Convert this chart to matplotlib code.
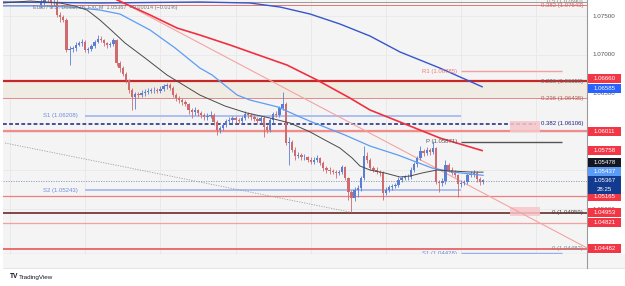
import numpy as np
import matplotlib
matplotlib.use("Agg")
import matplotlib.pyplot as plt
from matplotlib.patches import Rectangle
from matplotlib.transforms import blended_transform_factory

plt.rcParams['font.family'] = ['Liberation Sans', 'DejaVu Sans']

# Bougies EUR/USD 1h (index 0 = début du jour 8, 24 bougies par jour)
first_bar = 10
first_open = 1.0765
closes = [1.0768, 1.0774, 1.0771, 1.0767, 1.0768, 1.0752, 1.0749, 1.0745, 1.0706, 1.0707,
          1.0709, 1.0713, 1.0715, 1.0717, 1.0706, 1.0707, 1.0711, 1.0717, 1.0721, 1.0719,
          1.0715, 1.0713, 1.0714, 1.0719, 1.0689, 1.0683, 1.0675, 1.0667, 1.0654, 1.0645,
          1.0649, 1.0648, 1.0650, 1.0652, 1.0653, 1.0654, 1.0654, 1.0653, 1.0656, 1.0659,
          1.0661, 1.0657, 1.0648, 1.0644, 1.0641, 1.0639, 1.0636, 1.0628, 1.0626, 1.0628,
          1.0624, 1.0622, 1.0619, 1.0621, 1.0622, 1.0613, 1.0602, 1.0605, 1.0609, 1.0614,
          1.0615, 1.0618, 1.0615, 1.0614, 1.0618, 1.0623, 1.0622, 1.0619, 1.0617, 1.0614,
          1.0618, 1.0606, 1.0602, 1.0615, 1.0623, 1.0622, 1.0631, 1.0636, 1.0586, 1.0587,
          1.0577, 1.0569, 1.0570, 1.0567, 1.0567, 1.0564, 1.0561, 1.0564, 1.0566, 1.0560,
          1.0553, 1.0551, 1.0549, 1.0548, 1.0547, 1.0548, 1.0554, 1.0540, 1.0522, 1.0514,
          1.0525, 1.0527, 1.0540, 1.0569, 1.0564, 1.0553, 1.0551, 1.0548, 1.0547, 1.0521,
          1.0525, 1.0528, 1.0530, 1.0531, 1.0538, 1.0540, 1.0541, 1.0541, 1.0551, 1.0558,
          1.0566, 1.0575, 1.0573, 1.0577, 1.0574, 1.0579, 1.0535, 1.0534, 1.0536, 1.0557,
          1.0551, 1.0547, 1.0544, 1.0532, 1.0534, 1.0535, 1.0544, 1.0545, 1.0547, 1.0539,
          1.0535, 1.0537]
highs = [1.0778, 1.0780, 1.0778, 1.0775, 1.0773, 1.0772, 1.0755, 1.0751, 1.0748, 1.0712,
         1.0712, 1.0716, 1.0718, 1.0720, 1.0719, 1.0710, 1.0714, 1.0719, 1.0726, 1.0724,
         1.0721, 1.0717, 1.0717, 1.0722, 1.0721, 1.0692, 1.0686, 1.0678, 1.0669, 1.0657,
         1.0652, 1.0652, 1.0654, 1.0655, 1.0657, 1.0657, 1.0658, 1.0657, 1.0659, 1.0662,
         1.0664, 1.0663, 1.0659, 1.0651, 1.0647, 1.0644, 1.0642, 1.0638, 1.0631, 1.0632,
         1.0630, 1.0627, 1.0625, 1.0625, 1.0627, 1.0624, 1.0615, 1.0608, 1.0612, 1.0617,
         1.0619, 1.0621, 1.0620, 1.0618, 1.0621, 1.0627, 1.0626, 1.0624, 1.0622, 1.0619,
         1.0621, 1.0620, 1.0609, 1.0618, 1.0626, 1.0627, 1.0634, 1.0652, 1.0639, 1.0593,
         1.0590, 1.0580, 1.0574, 1.0573, 1.0571, 1.0569, 1.0567, 1.0567, 1.0570, 1.0568,
         1.0562, 1.0556, 1.0554, 1.0552, 1.0551, 1.0551, 1.0557, 1.0556, 1.0542, 1.0525,
         1.0528, 1.0531, 1.0543, 1.0582, 1.0574, 1.0566, 1.0556, 1.0554, 1.0551, 1.0549,
         1.0528, 1.0531, 1.0533, 1.0534, 1.0541, 1.0543, 1.0544, 1.0545, 1.0554, 1.0561,
         1.0569, 1.0582, 1.0578, 1.0580, 1.0579, 1.0588, 1.0581, 1.0538, 1.0540, 1.0564,
         1.0560, 1.0554, 1.0550, 1.0546, 1.0537, 1.0538, 1.0547, 1.0549, 1.0551, 1.0549,
         1.0541, 1.0539]
lows = [1.0761, 1.0765, 1.0768, 1.0761, 1.0764, 1.0749, 1.0743, 1.0743, 1.0703, 1.0687,
        1.0703, 1.0705, 1.0711, 1.0712, 1.0703, 1.0702, 1.0705, 1.0709, 1.0715, 1.0716,
        1.0712, 1.0709, 1.0710, 1.0712, 1.0686, 1.0678, 1.0672, 1.0664, 1.0650, 1.0628,
        1.0630, 1.0644, 1.0645, 1.0647, 1.0649, 1.0650, 1.0651, 1.0650, 1.0650, 1.0653,
        1.0656, 1.0654, 1.0645, 1.0640, 1.0638, 1.0635, 1.0633, 1.0623, 1.0618, 1.0622,
        1.0620, 1.0618, 1.0616, 1.0616, 1.0618, 1.0609, 1.0596, 1.0599, 1.0602, 1.0606,
        1.0611, 1.0612, 1.0612, 1.0611, 1.0611, 1.0615, 1.0618, 1.0616, 1.0614, 1.0611,
        1.0611, 1.0593, 1.0598, 1.0600, 1.0612, 1.0619, 1.0619, 1.0628, 1.0583, 1.0557,
        1.0574, 1.0564, 1.0566, 1.0564, 1.0563, 1.0561, 1.0558, 1.0558, 1.0561, 1.0557,
        1.0549, 1.0547, 1.0546, 1.0545, 1.0540, 1.0544, 1.0545, 1.0537, 1.0512, 1.0496,
        1.0510, 1.0515, 1.0524, 1.0537, 1.0560, 1.0550, 1.0548, 1.0545, 1.0543, 1.0512,
        1.0518, 1.0522, 1.0525, 1.0527, 1.0528, 1.0535, 1.0537, 1.0538, 1.0539, 1.0548,
        1.0555, 1.0563, 1.0569, 1.0570, 1.0570, 1.0571, 1.0532, 1.0522, 1.0530, 1.0533,
        1.0548, 1.0544, 1.0541, 1.0515, 1.0529, 1.0531, 1.0532, 1.0541, 1.0542, 1.0535,
        1.0531, 1.0533]

day_starts = [0, 24, 48, 72, 96, 120, 144, 168]
day_labels = ["8", "11", "12", "13", "14", "15", "18", "19"]
price_ticks = [1.045, 1.050, 1.055, 1.060, 1.065, 1.070, 1.075]

# Moyennes mobiles (index de bougie, prix)
ma_black_x = [-2.2, 6.4, 16.0, 20.7, 24.6, 28.7, 32.6, 36.7, 43.1, 50.1, 60.6, 68.6, 75.6, 83.0,
              89.4, 95.8, 100.5, 105.3, 109.2, 111.7, 114.9, 119.7, 124.5, 127.7, 131.5, 136.3,
              141.1, 146.8, 151.0]
ma_black_y = [1.07671, 1.07697, 1.07671, 1.07632, 1.07580, 1.07451, 1.07308, 1.07153, 1.06958,
              1.06738, 1.06478, 1.06336, 1.06245, 1.06180, 1.06115, 1.05999, 1.05895, 1.05791,
              1.05662, 1.05558, 1.05506, 1.05467, 1.05415, 1.05428, 1.05467, 1.05506, 1.05493,
              1.05480, 1.05478]
ma_blue_x = [-2.2, 9.6, 19.2, 28.7, 35.1, 44.7, 52.7, 60.6, 64.5, 72.5, 76.6, 85.5, 92.6, 96.4,
             106.9, 114.9, 123.8, 134.7, 141.1, 151.0]
ma_blue_y = [1.07632, 1.07632, 1.07619, 1.07580, 1.07528, 1.07321, 1.07088, 1.06828, 1.06738,
             1.06478, 1.06413, 1.06323, 1.06193, 1.06128, 1.05960, 1.05817, 1.05700, 1.05532,
             1.05480, 1.05437]
ma_red_x = [28.7, 34.2, 44.7, 53.3, 60.6, 70.2, 82.0, 88.4, 98.0, 108.5, 114.9, 124.5, 137.2, 150.7]
ma_red_y = [1.07840, 1.07710, 1.07516, 1.07347, 1.07256, 1.07127, 1.06958, 1.06867, 1.06673,
            1.06439, 1.06284, 1.06128, 1.05921, 1.05758]
ma_navy_x = [-2.2, 28.7, 60.6, 76.6, 86.2, 95.8, 105.3, 114.9, 124.5, 137.2, 150.7]
ma_navy_y = [1.07684, 1.07671, 1.07684, 1.07671, 1.07619, 1.07528, 1.07399, 1.07243, 1.07036,
             1.06828, 1.06585]

# Lignes de tendance (deux points d'ancrage)
trend_red_x = [34.5, 184.2]
trend_red_y = [1.07710, 1.04495]
trend_gray_x = [-1.6, 108.5]
trend_gray_y = [1.05856, 1.04961]

# Niveaux horizontaux
h_levels = [1.06660, 1.06011, 1.05165, 1.04953, 1.04821, 1.04482]
fib_levels = [1.07690, 1.07643, 1.06658, 1.06435, 1.06106, 1.04959, 1.04482]
fib_labels = ["0.5 (1.07690)", "0.382 (1.07643)", "0.236 (1.06658)", "0.236 (1.06435)",
              "0.382 (1.06106)", "0 (1.04959)", "0 (1.04482)"]
pivot_prev = [1.06208, 1.05243]
pivot_prev_labels = ["S1 (1.06208)", "S2 (1.05243)"]
pivot_cur = [1.06785, 1.05871, 1.04428]
pivot_cur_labels = ["R1 (1.06785)", "P (1.05871)", "S1 (1.04428)"]
last_price = 1.05367
countdown = "28:25"
tag_prices = [1.06660, 1.06585, 1.06011, 1.05758, 1.05478, 1.05437, 1.05165, 1.04953, 1.04821, 1.04482]

W, H = 625, 286
fig = plt.figure(figsize=(W / 100, H / 100), dpi=100)
fig.patch.set_facecolor('white')

def fx(px):
    return px / W

def fy(py):
    return 1 - py / H

ax = fig.add_axes([fx(3), fy(254), fx(587) - fx(3), fy(0) - fy(254)])
ylo, yhi = 1.04417, 1.07710
ax.set_xlim(-2.23, 184.17)
ax.set_ylim(ylo, yhi)
pxp = (yhi - ylo) / 254.0  # prix par pixel
ax.set_facecolor('#f4f4f4')
ax.set_xticks([])
ax.set_yticks([])
for s in ['top', 'left']:
    ax.spines[s].set_visible(False)
for s in ['right', 'bottom']:
    ax.spines[s].set_color('#9a9a9a')
    ax.spines[s].set_linewidth(0.8)

# grille
for d in day_starts:
    ax.axvline(d, color='#e7e7e7', lw=0.6, zorder=0.2)
for p in price_ticks:
    ax.axhline(p, color='#e9e9e9', lw=0.6, zorder=0.2)

# bande fib beige
ax.axhspan(fib_levels[3], fib_levels[2], color='#f1ece3', zorder=0.5, lw=0)

# lignes horizontales pleine largeur
h_colors = ['#c62828', '#f28b8b', '#ef7f7f', '#5d1a1a', '#f4a0a0', '#e84b4b']
h_widths = [1.6, 1.6, 0.9, 1.1, 0.9, 1.1]
for p, c, w in zip(h_levels, h_colors, h_widths):
    ax.axhline(p, color=c, lw=w, zorder=1.5)

# lignes fib propres
ax.axhline(fib_levels[0], color='#9a9a9a', lw=0.7, zorder=1.4)
ax.axhline(fib_levels[1], color='#e57373', lw=0.7, zorder=1.4)
ax.axhline(fib_levels[3], color='#e08a8a', lw=0.7, zorder=1.4)
ax.hlines(fib_levels[4], -2.23, 168.0, color='#1a237e', lw=1.1, linestyles=(0, (2.5, 1.5)), zorder=1.6)
fib_colors = ['#888888', '#e06060', '#666666', '#b55a5a', '#1a237e', '#444444', '#888888']
for p, lbl, c in zip(fib_levels, fib_labels, fib_colors):
    ax.text(182.9, p, lbl, ha='right', va='center', fontsize=4.3, color=c, zorder=6)

# rectangles roses
for y0, y1 in [(1.05999, 1.06141), (1.04910, 1.05026)]:
    ax.add_patch(Rectangle((159.6, y0), 9.6, y1 - y0, facecolor='#f7c6ca', edgecolor='none',
                           alpha=0.85, zorder=1.7))

# pivots semaine précédente
for p, lbl in zip(pivot_prev, pivot_prev_labels):
    ax.hlines(p, day_starts[1], day_starts[6], color='#a7baf0', lw=1.3, zorder=1.6)
    ax.text(21.7, p, lbl, ha='right', va='center', fontsize=4.3, color='#6f8ce0', zorder=6)
# pivots semaine en cours
piv_colors = ['#f4a0a0', '#555555', '#9bb0ee']
piv_text = ['#ee7b7b', '#555555', '#6f8ce0']
for p, lbl, c, tc in zip(pivot_cur, pivot_cur_labels, piv_colors, piv_text):
    ax.hlines(p, day_starts[6], 176.2, color=c, lw=1.0, zorder=1.6)
    ax.text(142.7, p, lbl, ha='right', va='center', fontsize=4.3, color=tc, zorder=6)

# prix courant (pointillé)
ax.axhline(last_price, color='#8797bb', lw=0.6, ls=(0, (1.5, 1.5)), zorder=1.5)

# lignes de tendance
ax.plot(trend_red_x, trend_red_y, color='#f4a3a3', lw=0.8, zorder=2)
ax.plot(trend_gray_x, trend_gray_y, color='#a0a0a0', lw=0.6, ls=(0, (1.5, 1.5)), zorder=2)

# bougies
c = np.array(closes)
o = np.concatenate([[first_open], c[:-1]])
hi = np.array(highs)
lo = np.array(lows)
idx = np.arange(first_bar, first_bar + len(c))
up = c >= o
cols = np.where(up, '#5b7ed3', '#cf6a6f')
ax.vlines(idx, lo, hi, colors=cols, lw=0.6, zorder=3)
ax.bar(idx, np.maximum(np.abs(c - o), 0.00005), bottom=np.minimum(o, c), width=0.75,
       color=cols, lw=0, zorder=3.1)

# moyennes mobiles
ax.plot(ma_navy_x, ma_navy_y, color='#3556cc', lw=1.0, zorder=4)
ax.plot(ma_red_x, ma_red_y, color='#f0303f', lw=1.2, zorder=4)
ax.plot(ma_blue_x, ma_blue_y, color='#5b9cf6', lw=0.9, zorder=4)
ax.plot(ma_black_x, ma_black_y, color='#4a4a4a', lw=0.7, zorder=4)

# titre
ax.text(0.051, 0.969, "Euro / U.S. Dollar, 1h, FXCM  1.05367  \u22120.00014 (\u22120.01%)",
        transform=ax.transAxes, fontsize=4.0, color='#777777', ha='left', va='center', zorder=5)

# échelle de prix à droite
tr = blended_transform_factory(fig.transFigure, ax.transData)
for p in price_ticks:
    ax.text(fx(604), p, f"{p:.5f}", transform=tr, ha='center', va='center', fontsize=4.5,
            color='#555555', clip_on=False, zorder=1)

tag_colors = ['#f23645', '#2962ff', '#f23645', '#f23645', '#131722', '#5b9cf6',
              '#f23645', '#f23645', '#f23645', '#f23645']
tag_nudge = [-2, 1.5, 0, 0, -10, -4, 0, 0, 0, 0]
th = 9 * pxp
for p, col, nd in zip(tag_prices, tag_colors, tag_nudge):
    yc = p - nd * pxp
    ax.add_patch(Rectangle((fx(588), yc - th / 2), fx(621) - fx(588), th, transform=tr,
                           facecolor=col, edgecolor='none', clip_on=False, zorder=10))
    ax.text(fx(604.5), yc, f"{p:.5f}", transform=tr, ha='center', va='center', fontsize=4.4,
            color='white', clip_on=False, zorder=11)
ax.add_patch(Rectangle((fx(588), last_price - 13.5 * pxp), fx(621) - fx(588), 18 * pxp, transform=tr,
                       facecolor='#123b8f', edgecolor='none', clip_on=False, zorder=10))
ax.text(fx(604.5), last_price + 0.5 * pxp, f"{last_price:.5f}", transform=tr, ha='center', va='center',
        fontsize=4.4, color='white', clip_on=False, zorder=11)
ax.text(fx(604.5), last_price - 9 * pxp, countdown, transform=tr, ha='center', va='center',
        fontsize=4.4, color='white', clip_on=False, zorder=11)

# axe du temps
fig.patches.append(Rectangle((fx(3), fy(268)), fx(625) - fx(3), fy(254) - fy(268),
                             transform=fig.transFigure, facecolor='#f5f5f5', edgecolor='none', zorder=0))
fig.lines.append(plt.Line2D([fx(3), fx(625)], [fy(268), fy(268)], transform=fig.transFigure,
                            color='#e0e0e0', lw=0.6))
fig.lines.append(plt.Line2D([fx(587), fx(587)], [fy(254), fy(268)], transform=fig.transFigure,
                            color='#9a9a9a', lw=0.8))
tb = blended_transform_factory(ax.transData, fig.transFigure)
for d, lbl in zip(day_starts, day_labels):
    ax.text(d, fy(260.5), lbl, transform=tb, ha='center', va='center', fontsize=4.5,
            color='#555555', clip_on=False)

# logo
fig.text(fx(10), fy(277), "TV", fontsize=4.8, fontweight='bold', color='#131722', va='center')
fig.text(fx(19), fy(277), "TradingView", fontsize=4.5, color='#131722', va='center')

fig.savefig("out.png", dpi=100, facecolor='white')
